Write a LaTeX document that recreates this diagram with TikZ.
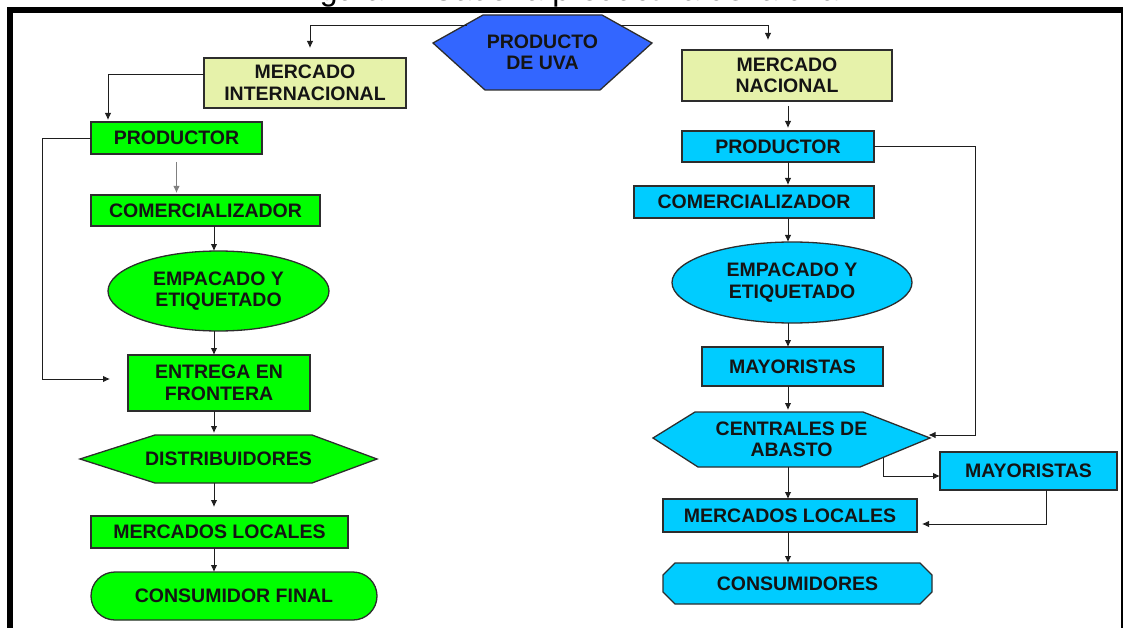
\documentclass[tikz,border=0pt]{standalone}
\usepackage{fontspec}
\setmainfont{Liberation Sans}
\usetikzlibrary{calc,arrows.meta,shapes.geometric}
\pgfdeclarelayer{background}
\pgfsetlayers{background,main}
\definecolor{lgreen}{RGB}{0,255,0}
\definecolor{lcyan}{RGB}{0,204,255}
\definecolor{lblue}{RGB}{51,102,255}
\definecolor{lyellow}{RGB}{230,242,170}
\definecolor{edgec}{RGB}{45,45,45}
\definecolor{txtc}{RGB}{20,20,20}
\definecolor{linec}{RGB}{30,30,30}
\begin{document}
\begin{tikzpicture}[x=1pt,y=-1pt,
  lbl/.style={font=\bfseries\fontsize{19.5}{21.5}\selectfont, text=txtc, align=center, inner sep=0pt, outer sep=0pt},
  bx/.style={lbl, draw=edgec, line width=1.3pt, minimum width=#1},
  hexnode/.style={lbl, minimum width=#1},
  shp/.style={draw=edgec, line width=1.3pt},
  arr/.style={draw=linec, line width=0.9pt, -{Latex[length=7pt,width=6.5pt]}},
  conn/.style={draw=linec, line width=0.9pt}]
\useasboundingbox (0,0) rectangle (1123,628);
\begin{scope}
\clip (0,0) rectangle (1123,628);
% cut title
\node[anchor=base, font=\fontsize{32}{34}\selectfont, inner sep=0pt] (title) at (566,0.3) {Figura 2. Cadena productiva de la uva};
% frame
\draw[line width=6pt] (10,660) -- (10,10) -- (1123.5,10) -- (1123.5,660);
\end{scope}

% ---------- top ----------
\node[hexnode=219, minimum height=75] (prod) at (542.5,52.5) {PRODUCTO\\DE UVA};
\begin{pgfonlayer}{background}
\filldraw[shp, fill=lblue] (433,43) -- (483,15) -- (602,15) -- (652,43) -- (600,90) -- (485,90) -- cycle;
\end{pgfonlayer}
\coordinate (hxl) at (467,25);
\coordinate (hxr) at (620,25);

% ---------- left column ----------
\node[bx=202, minimum height=50, fill=lyellow] (minter) at (305,83) {MERCADO\\INTERNACIONAL};
\node[bx=171, minimum height=32, fill=lgreen] (lprod) at (176.5,138) {PRODUCTOR};
\node[bx=229, minimum height=31, fill=lgreen] (lcom) at (205.5,210.5) {COMERCIALIZADOR};
\node[lbl, ellipse, draw=edgec, line width=1.3pt, fill=lgreen, minimum width=221, minimum height=80] (lemp) at (218.5,291) {EMPACADO Y\\ETIQUETADO};
\node[bx=182, minimum height=56, fill=lgreen] (lent) at (219,383) {ENTREGA EN\\FRONTERA};
\node[hexnode=297, minimum height=48] (ldis) at (228.5,459) {DISTRIBUIDORES};
\node[bx=257, minimum height=32, fill=lgreen] (lml) at (219.5,532) {MERCADOS LOCALES};
\node[bx=286, minimum height=48, fill=lgreen, rounded corners=24pt] (lcf) at (234,596) {CONSUMIDOR FINAL};
\begin{pgfonlayer}{background}
\filldraw[shp, fill=lgreen] (ldis.west) -- ($(ldis.north west)+(75,0)$) -- ($(ldis.north east)+(-65,0)$) -- (ldis.east) -- ($(ldis.south east)+(-65,0)$) -- ($(ldis.south west)+(75,0)$) -- cycle;
\end{pgfonlayer}

% ---------- right column ----------
\node[bx=210, minimum height=51, fill=lyellow] (mnac) at (787,75.5) {MERCADO\\NACIONAL};
\node[bx=192, minimum height=31, fill=lcyan] (rprod) at (778,146.5) {PRODUCTOR};
\node[bx=240, minimum height=32, fill=lcyan] (rcom) at (754,202) {COMERCIALIZADOR};
\node[lbl, ellipse, draw=edgec, line width=1.3pt, fill=lcyan, minimum width=240, minimum height=81] (remp) at (792,282.5) {EMPACADO Y\\ETIQUETADO};
\node[bx=181, minimum height=39, fill=lcyan] (rmay) at (792.5,366.5) {MAYORISTAS};
\node[hexnode=277, minimum height=55] (rcen) at (791.5,439.5) {CENTRALES DE\\ABASTO};
\node[bx=177, minimum height=38, fill=lcyan] (rmay2) at (1028.5,471) {MAYORISTAS};
\node[bx=254, minimum height=33, fill=lcyan] (rml) at (790,515.5) {MERCADOS LOCALES};
\node[hexnode=269, minimum height=41] (rcons) at (797.5,583.5) {CONSUMIDORES};
\begin{pgfonlayer}{background}
\filldraw[shp, fill=lcyan] (653,438) -- ($(rcen.north west)+(42,0)$) -- ($(rcen.north east)+(-67,0)$) -- (930,438) -- ($(rcen.south east)+(-70,0)$) -- ($(rcen.south west)+(45,0)$) -- cycle;
\filldraw[shp, fill=lcyan] ($(rcons.north west)+(12,0)$) -- ($(rcons.north east)+(-12,0)$) -- ($(rcons.north east)+(0,12)$) -- ($(rcons.south east)+(0,-12)$) -- ($(rcons.south east)+(-12,0)$) -- ($(rcons.south west)+(12,0)$) -- ($(rcons.south west)+(0,-12)$) -- ($(rcons.north west)+(0,12)$) -- cycle;
\end{pgfonlayer}

% ---------- connectors ----------
\coordinate (lax) at (214,0);
\coordinate (rax) at (788,0);
\draw[arr] (hxl) -| ($(minter.north)+(5,-10)$);
\draw[arr] (hxr) -| ($(mnac.north)+(-19,-10)$);
% left
\draw[arr] ($(minter.west)+(0,-9)$) -| ($(lprod.north)+(-68.5,-2)$);
\draw[arr, draw=gray, shorten <=8pt, shorten >=2pt] (lprod.south) -- (lprod.south |- lcom.north);
\draw[arr] (lax |- lcom.south) -- (lax |- lemp.north);
\draw[arr] (lax |- lemp.south) -- (lax |- lent.north);
\draw[arr] (lprod.west) -- ++(-49,0) |- ($(lent.west)+(-18,-4)$);
\draw[arr, shorten >=2pt] (lax |- lent.south) -- (lax |- ldis.north);
\draw[arr, shorten >=9pt] (lax |- ldis.south) -- (lax |- lml.north);
\draw[arr] (lax |- lml.south) -- (lax |- lcf.north);
% right
\draw[arr, shorten <=5pt, shorten >=3pt] (rax |- mnac.south) -- (rax |- rprod.north);
\draw[arr, shorten >=1pt] (rax |- rprod.south) -- (rax |- rcom.north);
\draw[arr] (rax |- rcom.south) -- (rax |- remp.north);
\draw[arr] (rax |- remp.south) -- (rax |- rmay.north);
\draw[arr, shorten >=2pt] (rax |- rmay.south) -- (rax |- rcen.north);
\draw[arr] (rax |- rcen.south) -- (rax |- rml.north);
\draw[arr] (rax |- rml.south) -- (rax |- rcons.north);
\draw[arr] (rprod.east) -- ++(101,0) |- ($(rcen.east)+(-1.5,-4.5)$);
\draw[arr] ($(rcen.south east)+(-47,-9)$) |- ($(rmay2.west)+(0,5)$);
\draw[arr] ($(rmay2.south)+(17.5,0)$) |- ($(rml.east)+(5,8.5)$);
\end{tikzpicture}
\end{document}
